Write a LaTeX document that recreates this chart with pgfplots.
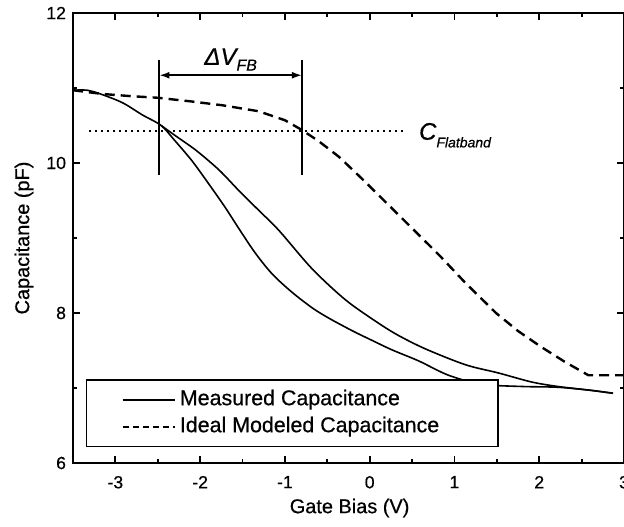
\documentclass[border=0pt]{standalone}
\usepackage{pgfplots}
\pgfplotsset{compat=1.18}
\usepackage{fontspec}
\setmainfont{Liberation Sans}[FakeBold=0.6]
\usetikzlibrary{arrows.meta}
\begin{document}
\begin{tikzpicture}
\begin{axis}[
  scale only axis, width=275.5bp, height=225bp,
  xmin=-3.5, xmax=3, ymin=6, ymax=12,
  xtick={-3,-2,-1,0,1,2,3}, ytick={6,8,10,12},
  minor xtick={-3.5,-2.5,-1.5,-0.5,0.5,1.5,2.5},
  minor ytick={7,9,11},
  tick align=inside,
  major tick length=3.5bp, minor tick length=2bp,
  every tick/.style={black, line width=0.9bp},
  axis line style={line width=1.1bp},
  /pgf/number format/assume math mode=true,
  ticklabel style={font=\fontsize{8.8bp}{10bp}\selectfont},
  xticklabel style={yshift=-3bp},
  xlabel={Gate Bias (V)}, ylabel={Capacitance (pF)},
  label style={font=\fontsize{10.4bp}{12bp}\selectfont},
  every axis x label/.style={at={([yshift=-22.5bp]axis description cs:0.502,0)}, anchor=center},
  every axis y label/.style={at={([xshift=-24.5bp]axis description cs:0,0.5)}, anchor=center, rotate=90},
  legend style={at={(axis cs:-3.35,7.12)}, anchor=north west, draw=black, line width=0.8bp, fill=white,
    inner xsep=0pt, inner ysep=3.2bp, row sep=0pt,
    font=\fontsize{10.7bp}{12bp}\selectfont,
    nodes={inner xsep=2bp, inner ysep=1.5bp, text height=8bp, text depth=2.5bp}},
  legend cell align=left,
  legend image code/.code={\path (-17.5bp,0bp) (26bp,0bp); \draw[#1] (0bp,0bp) -- (26bp,0bp);},
]
\addplot[black, line width=0.8bp, smooth] coordinates {
(-3.50,10.97) (-3.33,10.97) (-3.15,10.91) (-2.91,10.80) (-2.68,10.64) (-2.46,10.50)
(-2.30,10.30) (-2.09,10.02) (-1.86,9.66) (-1.70,9.40) (-1.54,9.12) (-1.35,8.80)
(-1.15,8.52) (-0.92,8.28) (-0.68,8.07) (-0.48,7.93) (-0.20,7.76) (0.00,7.65)
(0.26,7.51) (0.58,7.36) (0.93,7.17) (1.32,7.05) (1.80,7.02) (2.22,7.01)
(2.60,6.97) (2.87,6.93)};
\addlegendentry{\makebox[157bp][l]{Measured Capacitance}}
\addplot[black, line width=1.2bp, dash pattern=on 5bp off 3bp,
  legend image code/.code={\path (-17.5bp,0bp) (26bp,0bp); \draw[black, line width=0.8bp, dash pattern=on 3bp off 2bp] (0bp,0bp) -- (26bp,0bp);}] coordinates {
(-3.50,10.97) (-3.15,10.92) (-2.80,10.89) (-2.50,10.87) (-2.10,10.82) (-1.74,10.77)
(-1.31,10.69) (-1.00,10.57) (-0.80,10.44) (-0.60,10.29) (-0.36,10.08) (-0.10,9.80)
(0.16,9.51) (0.50,9.13) (0.83,8.76) (1.13,8.40) (1.49,8.00) (1.75,7.76)
(2.02,7.55) (2.30,7.35) (2.58,7.17) (3.00,7.17)};
\addlegendentry{\makebox[157bp][l]{Ideal Modeled Capacitance}}
\addplot[black, line width=0.8bp, smooth, forget plot] coordinates {
(-2.46,10.50) (-2.30,10.37) (-2.05,10.17) (-1.78,9.91) (-1.55,9.64) (-1.31,9.37)
(-1.07,9.10) (-0.68,8.59) (-0.28,8.17) (0.11,7.86) (0.34,7.70)
(0.66,7.52) (1.13,7.31) (1.52,7.20) (1.91,7.08) (2.22,7.02) (2.60,6.97) (2.87,6.93)};
% flatband dotted line
\addplot[black, line width=1bp, dash pattern=on 1bp off 2bp, forget plot] coordinates {(-3.31,10.43) (0.40,10.43)};
% vertical markers
\addplot[black, line width=1bp, forget plot] coordinates {(-2.48,11.37) (-2.48,9.84)};
\addplot[black, line width=1bp, forget plot] coordinates {(-0.80,11.37) (-0.80,9.84)};
\addplot[black, line width=0.8bp, {Latex[length=5bp,width=3.5bp]}-{Latex[length=5bp,width=3.5bp]}, forget plot] coordinates {(-2.48,11.17) (-0.80,11.17)};
\node[font=\fontsize{12bp}{14bp}\selectfont\itshape] at (axis cs:-1.64,11.38) {ΔV\raisebox{-0.45ex}{\fontsize{8bp}{9bp}\selectfont FB}};
\node[anchor=west, font=\fontsize{12bp}{14bp}\selectfont\itshape] at (axis cs:0.50,10.37) {C\raisebox{-0.6ex}{\fontsize{7bp}{9bp}\selectfont Flatband}};
\end{axis}
\pgfresetboundingbox
\path[use as bounding box] ([xshift=-36.5bp,yshift=-32bp]current axis.south west) rectangle ([yshift=6.5bp]current axis.north east);
\end{tikzpicture}
\end{document}
